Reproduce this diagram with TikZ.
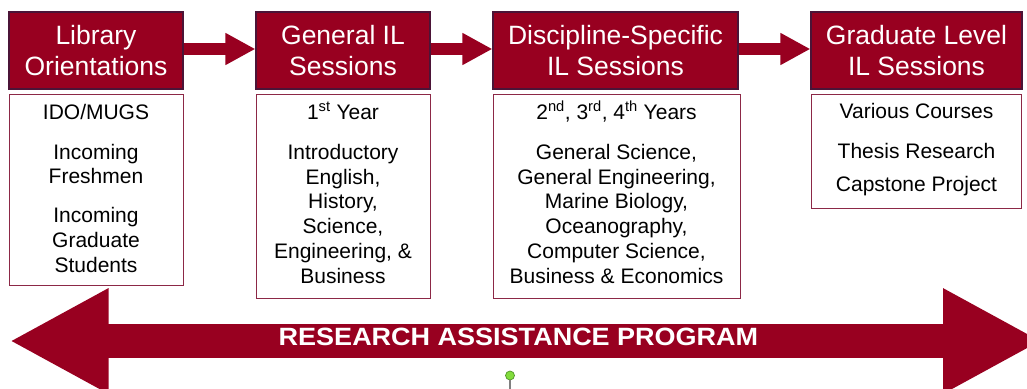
\documentclass[tikz,border=0pt]{standalone}
\usepackage{fontspec}
\setmainfont{Liberation Sans}
\usetikzlibrary{arrows.meta,calc}
\definecolor{maroon}{RGB}{152,0,32}
\definecolor{hdrborder}{RGB}{75,20,55}
\definecolor{boxborder}{RGB}{140,40,70}
\definecolor{pingreen}{RGB}{130,220,60}
\definecolor{pinedge}{RGB}{80,150,40}
\begin{document}
\begin{tikzpicture}[x=1pt,y=-1pt,
  hdr/.style={draw=hdrborder, line width=1.2pt, fill=maroon, text=white,
    minimum height=77pt, inner sep=0pt, align=center,
    font=\fontsize{26.5}{31}\selectfont},
  detbox/.style={draw=boxborder, line width=0.9pt, fill=white, inner sep=0pt},
  dl/.style={anchor=base, inner sep=0pt, text=black,
    font=\fontsize{21}{25}\selectfont},
  flow/.style={draw=maroon, line width=12pt,
    -{Triangle[length=30pt,width=30pt]}},
  bigflow/.style={draw=maroon, line width=34pt,
    {Triangle[length=99pt,width=98pt]}-{Triangle[length=99pt,width=98pt]}}
]
\useasboundingbox (0,0) rectangle (1027,388);
\clip (0,0) rectangle (1027,388);

% header boxes
\node[hdr, minimum width=174pt] (h1) at (96,50.5) {Library\\Orientations};
\node[hdr, minimum width=174pt] (h2) at (343,50.5) {General IL\\Sessions};
\node[hdr, minimum width=245pt] (h3) at (615.5,50.5) {Discipline-Specific\\IL Sessions};
\node[hdr, minimum width=211pt] (h4) at (916.5,50.5) {Graduate Level\\IL Sessions};

% flow arrows
\draw[flow] ([yshift=1.5pt]h1.east) -- ([yshift=1.5pt]h2.west);
\draw[flow] ([yshift=1.5pt]h2.east) -- ([yshift=1.5pt]h3.west);
\draw[flow] ([yshift=1.5pt]h3.east) -- ([yshift=1.5pt]h4.west);

% detail boxes
\node[detbox, minimum width=174pt, minimum height=191pt] (d1) at (96,189.5) {};
\node[detbox, minimum width=174pt, minimum height=204pt] (d2) at (343,196) {};
\node[detbox, minimum width=247pt, minimum height=204pt] (d3) at (616.5,196) {};
\node[detbox, minimum width=210pt, minimum height=114pt] (d4) at (916.5,151) {};

% box 1 text
\node[dl] (d1a) at (96,119.3) {IDO/MUGS};
\node[dl] (d1b) at (96,159) {Incoming};
\node[dl] (d1c) at (96,183.5) {Freshmen};
\node[dl] (d1d) at (96,222.7) {Incoming};
\node[dl] (d1e) at (96,247) {Graduate};
\node[dl] (d1f) at (96,272) {Students};

% box 2 text
\node[dl] (d2a) at (343,119.3) {1\textsuperscript{st} Year};
\node[dl] (d2b) at (343,159) {Introductory};
\node[dl] (d2c) at (343,184) {English,};
\node[dl] (d2d) at (343,208.5) {History,};
\node[dl] (d2e) at (343,233.5) {Science,};
\node[dl] (d2f) at (343,258.3) {Engineering, \&};
\node[dl] (d2g) at (343,283) {Business};

% box 3 text
\node[dl] (d3a) at (616.5,119.3) {2\textsuperscript{nd}, 3\textsuperscript{rd}, 4\textsuperscript{th} Years};
\node[dl] (d3b) at (616.5,159) {General Science,};
\node[dl] (d3c) at (616.5,184) {General Engineering,};
\node[dl] (d3d) at (616.5,208.5) {Marine Biology,};
\node[dl] (d3e) at (616.5,233.5) {Oceanography,};
\node[dl] (d3f) at (616.5,258.3) {Computer Science,};
\node[dl] (d3g) at (616.5,283) {Business \& Economics};

% box 4 text
\node[dl] (d4a) at (916.5,118.5) {Various Courses};
\node[dl] (d4b) at (916.5,158.3) {Thesis Research};
\node[dl] (d4c) at (916.5,191.7) {Capstone Project};

% research assistance double arrow
\coordinate (rl) at (9.5,341);
\coordinate (rr) at (1042,341);
\draw[bigflow] (rl) -- (rr);
\node[inner sep=0pt, text=white, font=\bfseries\fontsize{25}{28}\selectfont] (rap) at (518.5,336.7)
  {\scalebox{1.08}[1]{RESEARCH ASSISTANCE PROGRAM}};

% small green handle
\coordinate (pinend) at (510,390);
\node[circle, draw=pinedge, fill=pingreen, line width=0.7pt, minimum size=9pt, inner sep=0pt] (pin) at (510,375.5) {};
\draw[gray, line width=1.2pt] (pin.south) -- (pinend);
\end{tikzpicture}
\end{document}
